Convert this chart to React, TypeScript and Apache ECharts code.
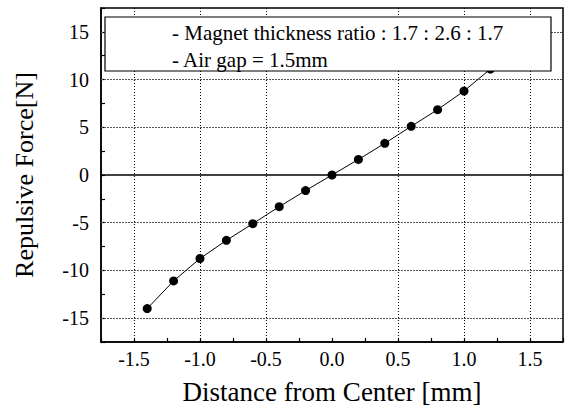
import React, { useEffect, useRef } from "react";
import * as echarts from "echarts";

const distances = [-1.4, -1.2, -1.0, -0.8, -0.6, -0.4, -0.2, 0.0, 0.2, 0.4, 0.6, 0.8, 1.0, 1.2, 1.4];
const forces = [-14.0, -11.1, -8.75, -6.85, -5.1, -3.32, -1.63, 0.0, 1.63, 3.32, 5.1, 6.85, 8.8, 11.1, 14.0];
const xGridValues = [-1.5, -1.0, -0.5, 0.5, 1.0, 1.5];
const yGridValues = [-15, -10, -5, 5, 10, 15];
const legendLines = ["- Magnet thickness ratio : 1.7 : 2.6 : 1.7", "- Air gap = 1.5mm"];

const FONT = "'Liberation Serif', 'Times New Roman', serif";

export default function App() {
  const ref = useRef<HTMLDivElement>(null);
  useEffect(() => {
    if (!ref.current) return;
    const chart = echarts.init(ref.current, null, { renderer: "svg" });
    const data = distances.map((d, i) => [d, forces[i]]);
    chart.setOption({
      animation: false,
      backgroundColor: "#ffffff",
      grid: {
        left: 101,
        right: 1,
        top: 8,
        bottom: 64,
        show: true,
        borderColor: "#000",
        borderWidth: 1.5,
        backgroundColor: "transparent",
      },
      xAxis: {
        type: "value",
        min: -1.75,
        max: 1.75,
        interval: 0.25,
        name: "Distance from Center [mm]",
        nameLocation: "middle",
        nameGap: 36,
        nameTextStyle: { fontFamily: FONT, fontSize: 27, color: "#000" },
        axisLine: { show: true, onZero: false, lineStyle: { color: "#000", width: 1.5 } },
        axisTick: { show: true, inside: true, length: 4, lineStyle: { color: "#000", width: 1.2 } },
        axisLabel: {
          margin: 7,
          fontFamily: FONT,
          fontSize: 20,
          color: "#000",
          formatter: (v: number) => {
            const r = Math.round(v * 100) / 100;
            if (Math.abs(r * 2 - Math.round(r * 2)) > 1e-6 || Math.abs(r) > 1.6) return "";
            return r.toFixed(1);
          },
        },
        splitLine: { show: false },
      },
      yAxis: {
        type: "value",
        min: -17.5,
        max: 17.5,
        interval: 2.5,
        name: "Repulsive Force[N]",
        nameLocation: "middle",
        nameGap: 64,
        nameTextStyle: { fontFamily: FONT, fontSize: 26, color: "#000" },
        axisLine: { show: true, onZero: false, lineStyle: { color: "#000", width: 1.5 } },
        axisTick: { show: true, inside: true, length: 4, lineStyle: { color: "#000", width: 1.2 } },
        axisLabel: {
          margin: 12,
          fontFamily: FONT,
          fontSize: 20,
          color: "#000",
          formatter: (v: number) => {
            const r = Math.round(v * 10) / 10;
            if (Math.abs(r / 5 - Math.round(r / 5)) > 1e-6) return "";
            return String(r);
          },
        },
        splitLine: { show: false },
      },
      graphic: [
        {
          type: "rect",
          z: 100,
          shape: { x: 105, y: 17, width: 446, height: 54 },
          style: { fill: "#fff", stroke: "#000", lineWidth: 1.2 },
        },
        {
          type: "text",
          z: 101,
          x: 172,
          y: 33,
          style: {
            text: legendLines[0],
            fontFamily: FONT,
            fontSize: 21,
            fill: "#000",
            verticalAlign: "middle",
            align: "left",
          },
        },
        {
          type: "text",
          z: 101,
          x: 172,
          y: 60,
          style: {
            text: legendLines[1],
            fontFamily: FONT,
            fontSize: 21,
            fill: "#000",
            verticalAlign: "middle",
            align: "left",
          },
        },
      ],
      series: [
        {
          type: "line",
          data,
          symbol: "circle",
          symbolSize: 9,
          itemStyle: { color: "#000" },
          lineStyle: { color: "#000", width: 1 },
          z: 5,
          markLine: {
            silent: true,
            symbol: "none",
            label: { show: false },
            animation: false,
            data: [
              ...xGridValues.map((v) => ({ xAxis: v, lineStyle: { type: [1, 2], color: "#000", width: 1 } })),
              ...yGridValues.map((v) => ({ yAxis: v, lineStyle: { type: [2, 1], color: "#555", width: 1 } })),
              { yAxis: 0, lineStyle: { type: "solid", color: "#000", width: 1.5 } },
            ],
          },
        },
      ],
    });
    return () => chart.dispose();
  }, []);
  return <div ref={ref} style={{ width: 566, height: 410, position: "absolute", left: 0, top: 0 }} />;
}
